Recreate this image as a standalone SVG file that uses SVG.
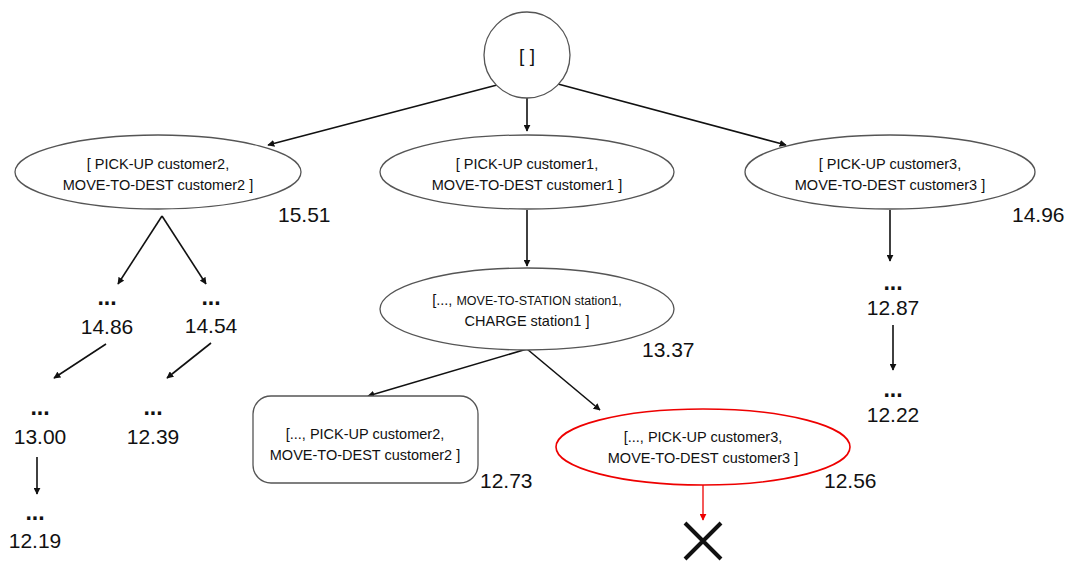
<svg xmlns="http://www.w3.org/2000/svg" width="1069" height="561" viewBox="0 0 1069 561">
<style>
.n{fill:#fff;stroke:#555;stroke-width:1.3}
.t{font-family:"Liberation Sans",Arial,sans-serif;font-size:14.5px;fill:#111;text-anchor:middle}
.v{font-family:"Liberation Sans",Arial,sans-serif;font-size:21px;fill:#111}
.d{font-family:"Liberation Sans",Arial,sans-serif;font-size:23px;font-weight:bold;fill:#111;text-anchor:middle}
.c{stroke:#111;stroke-width:1.6;fill:none;marker-end:url(#a)}
</style>
<defs>
<marker id="a" viewBox="0 0 10 10" refX="9" refY="5" markerWidth="7" markerHeight="7" markerUnits="userSpaceOnUse" orient="auto"><path d="M0,0L10,5L0,10z" fill="#111"/></marker>
<marker id="ar" viewBox="0 0 10 10" refX="9" refY="5" markerWidth="7" markerHeight="7" markerUnits="userSpaceOnUse" orient="auto"><path d="M0,0L10,5L0,10z" fill="#e00"/></marker>
</defs>
<rect width="1069" height="561" fill="#fff"/>
<g id="connectors">
<line class="c" x1="497" y1="85" x2="268" y2="145"/>
<line class="c" x1="527" y1="98" x2="527" y2="131"/>
<line class="c" x1="558" y1="84" x2="786" y2="145"/>
<line class="c" x1="162" y1="216" x2="118" y2="284"/>
<line class="c" x1="162" y1="216" x2="206" y2="284"/>
<line class="c" x1="106" y1="344" x2="54" y2="378"/>
<line class="c" x1="211" y1="343" x2="167" y2="378"/>
<line class="c" x1="37" y1="457" x2="37" y2="494"/>
<line class="c" x1="527" y1="210" x2="527" y2="266"/>
<line class="c" x1="527" y1="349" x2="368" y2="396"/>
<line class="c" x1="527" y1="349" x2="600" y2="410"/>
<line class="c" x1="890" y1="210" x2="890" y2="261"/>
<line class="c" x1="893" y1="325" x2="893" y2="370"/>
<line x1="703" y1="485" x2="703" y2="520" stroke="#e00" stroke-width="1.3" marker-end="url(#ar)"/>
</g>
<g id="root">
<circle class="n" cx="527" cy="55" r="43"/>
<text class="t" x="527" y="62" style="font-size:19px">[ ]</text>
</g>
<g id="n-c2">
<ellipse class="n" cx="158" cy="172" rx="143" ry="37"/>
<text class="t" x="158" y="169">[ PICK-UP customer2,</text>
<text class="t" x="158" y="190">MOVE-TO-DEST customer2 ]</text>
<text class="v" x="278" y="222">15.51</text>
</g>
<g id="n-c1">
<ellipse class="n" cx="527" cy="172" rx="147" ry="37"/>
<text class="t" x="527" y="169">[ PICK-UP customer1,</text>
<text class="t" x="527" y="190">MOVE-TO-DEST customer1 ]</text>
</g>
<g id="n-c3">
<ellipse class="n" cx="890" cy="172" rx="145" ry="37"/>
<text class="t" x="890" y="169">[ PICK-UP customer3,</text>
<text class="t" x="890" y="190">MOVE-TO-DEST customer3 ]</text>
<text class="v" x="1012" y="222">14.96</text>
</g>
<g id="n-1486">
<text class="d" x="107" y="305">...</text>
<text class="v" x="107" y="334" text-anchor="middle">14.86</text>
</g>
<g id="n-1454">
<text class="d" x="211" y="305">...</text>
<text class="v" x="211" y="333" text-anchor="middle">14.54</text>
</g>
<g id="n-1300">
<text class="d" x="40" y="415">...</text>
<text class="v" x="40" y="444" text-anchor="middle">13.00</text>
</g>
<g id="n-1239">
<text class="d" x="153" y="415">...</text>
<text class="v" x="153" y="444" text-anchor="middle">12.39</text>
</g>
<g id="n-1219">
<text class="d" x="35" y="520">...</text>
<text class="v" x="35" y="548" text-anchor="middle">12.19</text>
</g>
<g id="n-station">
<ellipse class="n" cx="527" cy="309" rx="147" ry="41"/>
<text class="t" x="527" y="305">[..., <tspan style="font-size:12.5px">MOVE-TO-STATION station1,</tspan></text>
<text class="t" x="527" y="326">CHARGE station1 ]</text>
<text class="v" x="642" y="357">13.37</text>
</g>
<g id="n-rect">
<rect class="n" x="253" y="396" width="225" height="87" rx="18"/>
<text class="t" x="365" y="439">[..., PICK-UP customer2,</text>
<text class="t" x="365" y="460">MOVE-TO-DEST customer2 ]</text>
<text class="v" x="480" y="488">12.73</text>
</g>
<g id="n-red">
<ellipse cx="703" cy="447" rx="147" ry="38" fill="#fff" stroke="#e00" stroke-width="1.6"/>
<text class="t" x="703" y="442">[..., PICK-UP customer3,</text>
<text class="t" x="703" y="463">MOVE-TO-DEST customer3 ]</text>
<text class="v" x="824" y="488">12.56</text>
</g>
<g id="n-x">
<path d="M685,523L721,559M721,523L685,559" stroke="#111" stroke-width="4" fill="none"/>
</g>
<g id="n-1287">
<text class="d" x="893" y="290">...</text>
<text class="v" x="893" y="315" text-anchor="middle">12.87</text>
</g>
<g id="n-1222">
<text class="d" x="893" y="397">...</text>
<text class="v" x="893" y="422" text-anchor="middle">12.22</text>
</g>
</svg>
